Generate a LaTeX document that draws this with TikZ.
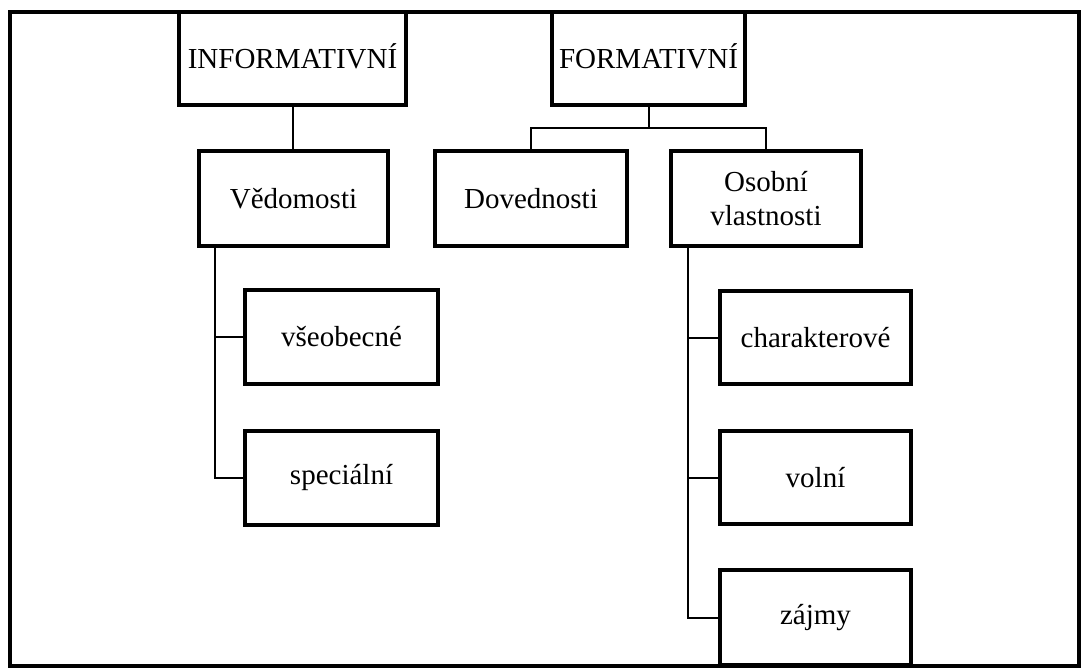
\documentclass[tikz,border=0pt]{standalone}
\usepackage{fontspec}
\setmainfont{Liberation Serif}
\begin{document}
\begin{tikzpicture}[x=1pt,y=-1pt,
  box/.style={draw=black,line width=4pt,fill=white,inner sep=0pt,align=center,
    font=\fontsize{29}{34}\selectfont},
  conn/.style={draw=black,line width=2pt}]
\useasboundingbox (0,0) rectangle (1086,671);
% nodes
\node[box,minimum width=227pt,minimum height=93pt,text depth=4pt] (inf) at (292.5,58.5) {INFORMATIVNÍ};
\node[box,minimum width=193pt,minimum height=93pt,text depth=4pt] (form) at (648.5,58.5) {FORMATIVNÍ};
\node[box,minimum width=189pt,minimum height=95pt] (ved) at (293.5,198.5) {Vědomosti};
\node[box,minimum width=192pt,minimum height=95pt] (dov) at (531,198.5) {Dovednosti};
\node[box,minimum width=190pt,minimum height=95pt] (osob) at (766,198.5) {Osobní\\vlastnosti};
\node[box,minimum width=193pt,minimum height=94pt] (vse) at (341.5,337) {všeobecné};
\node[box,minimum width=193pt,minimum height=94pt] (spec) at (341.5,477.5) {speciální};
\node[box,minimum width=191pt,minimum height=93pt] (char) at (815.5,337.5) {charakterové};
\node[box,minimum width=191pt,minimum height=93pt] (volni) at (815.5,477.5) {volní};
\node[box,minimum width=191pt,minimum height=95pt] (zajmy) at (815.5,617.5) {zájmy};
% connectors
\coordinate (vt) at (215,248);
\coordinate (ot) at (688,248);
\coordinate (fb) at (648.5,128);
\draw[conn] (inf.south) -- (inf.south |- ved.north);
\draw[conn] (form.south) -- (fb);
\draw[conn] (fb) -| (dov.north);
\draw[conn] (fb) -| (osob.north);
\draw[conn] (vt) |- (spec.west);
\draw[conn] (vt) |- (vse.west);
\draw[conn] (ot) |- (zajmy.west);
\draw[conn] (ot) |- (char.west);
\draw[conn] (ot) |- (volni.west);
% frame
\draw[line width=4pt] (10,12) rectangle (1079,666);
\end{tikzpicture}
\end{document}
